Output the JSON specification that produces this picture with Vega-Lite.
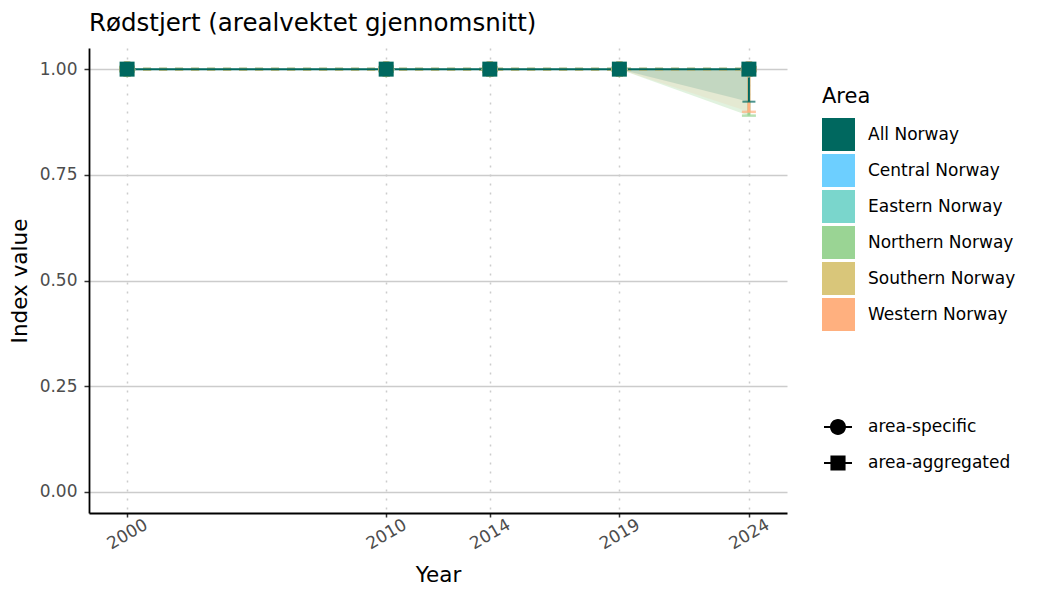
{
  "$schema": "https://vega.github.io/schema/vega-lite/v6.json",
  "width": 698,
  "height": 465,
  "autosize": {"type": "none"},
  "padding": {"left": 89, "top": 48, "right": 263, "bottom": 87},
  "background": "white",
  "title": {"text": "Rødstjert (arealvektet gjennomsnitt)", "anchor": "start", "frame": "group", "fontSize": 24.5, "fontWeight": "normal", "color": "black", "baseline": "alphabetic", "offset": -7},
  "data": {"values": [
    {"year": 2000, "area": "All Norway", "value": 1, "lower": 1, "upper": 1, "type": "area-aggregated"},
    {"year": 2000, "area": "Central Norway", "value": 1, "lower": 1, "upper": 1, "type": "area-specific"},
    {"year": 2000, "area": "Eastern Norway", "value": 1, "lower": 1, "upper": 1, "type": "area-specific"},
    {"year": 2000, "area": "Northern Norway", "value": 1, "lower": 1, "upper": 1, "type": "area-specific"},
    {"year": 2000, "area": "Western Norway", "value": 1, "lower": 1, "upper": 1, "type": "area-specific"},
    {"year": 2000, "area": "Southern Norway", "value": 1, "lower": 1, "upper": 1, "type": "area-specific"},
    {"year": 2010, "area": "All Norway", "value": 1, "lower": 1, "upper": 1, "type": "area-aggregated"},
    {"year": 2010, "area": "Central Norway", "value": 1, "lower": 1, "upper": 1, "type": "area-specific"},
    {"year": 2010, "area": "Eastern Norway", "value": 1, "lower": 1, "upper": 1, "type": "area-specific"},
    {"year": 2010, "area": "Northern Norway", "value": 1, "lower": 1, "upper": 1, "type": "area-specific"},
    {"year": 2010, "area": "Western Norway", "value": 1, "lower": 1, "upper": 1, "type": "area-specific"},
    {"year": 2010, "area": "Southern Norway", "value": 1, "lower": 1, "upper": 1, "type": "area-specific"},
    {"year": 2014, "area": "All Norway", "value": 1, "lower": 1, "upper": 1, "type": "area-aggregated"},
    {"year": 2014, "area": "Central Norway", "value": 1, "lower": 1, "upper": 1, "type": "area-specific"},
    {"year": 2014, "area": "Eastern Norway", "value": 1, "lower": 1, "upper": 1, "type": "area-specific"},
    {"year": 2014, "area": "Northern Norway", "value": 1, "lower": 1, "upper": 1, "type": "area-specific"},
    {"year": 2014, "area": "Western Norway", "value": 1, "lower": 1, "upper": 1, "type": "area-specific"},
    {"year": 2014, "area": "Southern Norway", "value": 1, "lower": 1, "upper": 1, "type": "area-specific"},
    {"year": 2019, "area": "All Norway", "value": 1, "lower": 1, "upper": 1, "type": "area-aggregated"},
    {"year": 2019, "area": "Central Norway", "value": 1, "lower": 1, "upper": 1, "type": "area-specific"},
    {"year": 2019, "area": "Eastern Norway", "value": 1, "lower": 1, "upper": 1, "type": "area-specific"},
    {"year": 2019, "area": "Northern Norway", "value": 1, "lower": 1, "upper": 1, "type": "area-specific"},
    {"year": 2019, "area": "Western Norway", "value": 1, "lower": 1, "upper": 1, "type": "area-specific"},
    {"year": 2019, "area": "Southern Norway", "value": 1, "lower": 1, "upper": 1, "type": "area-specific"},
    {"year": 2024, "area": "All Norway", "value": 1, "lower": 0.923, "upper": 1, "type": "area-aggregated"},
    {"year": 2024, "area": "Central Norway", "value": 1, "lower": 1, "upper": 1, "type": "area-specific"},
    {"year": 2024, "area": "Eastern Norway", "value": 1, "lower": 1, "upper": 1, "type": "area-specific"},
    {"year": 2024, "area": "Northern Norway", "value": 1, "lower": 0.89, "upper": 1, "type": "area-specific"},
    {"year": 2024, "area": "Southern Norway", "value": 1, "lower": 1, "upper": 1, "type": "area-specific"},
    {"year": 2024, "area": "Western Norway", "value": 1, "lower": 0.899, "upper": 1, "type": "area-specific"}
  ]},
  "encoding": {
    "x": {"field": "year", "type": "quantitative", "scale": {"domain": [1998.53, 2025.47], "nice": false, "zero": false},
      "axis": {"values": [2000, 2010, 2014, 2019, 2024], "format": "d", "title": "Year", "titleFontSize": 21.5, "titleFontWeight": "normal", "titleColor": "black", "titlePadding": 13,
        "labelFontSize": 17, "labelColor": "#4d4d4d", "labelAngle": -30, "labelAlign": "center", "labelBaseline": "middle", "labelPadding": 17, "labelFlush": false, "labelOverlap": false,
        "tickSize": 4, "tickColor": "#333333", "tickWidth": 1.5, "domainColor": "black", "domainWidth": 1.8,
        "grid": true, "gridDash": [2, 7], "gridColor": "#cccccc", "gridWidth": 1.5}}
  },
  "layer": [
    {
      "transform": [{"filter": "datum.area !== 'All Norway'"}],
      "mark": {"type": "area"},
      "encoding": {
        "y": {"field": "lower", "type": "quantitative", "title": "Index value", "scale": {"domain": [-0.05, 1.05], "nice": false, "zero": false}, "axis": {"values": [0, 0.25, 0.5, 0.75, 1], "format": ".2f", "title": "Index value"}},
        "y2": {"field": "upper"},
        "opacity": {"condition": {"test": "datum.area === 'Western Norway'", "value": 0.12}, "value": 0.3},
        "color": {"field": "area", "type": "nominal",
          "scale": {"domain": ["All Norway", "Central Norway", "Eastern Norway", "Northern Norway", "Southern Norway", "Western Norway"], "range": ["#00685F", "#6DCFFF", "#7AD6CC", "#9AD494", "#D9C67A", "#FFB07F"]},
          "legend": {"orient": "none", "legendX": 733, "legendY": 38, "title": "Area", "titleFontSize": 21, "titleFontWeight": "normal", "titleColor": "black", "titlePadding": 11,
            "labelFontSize": 17, "labelColor": "black", "symbolSize": 1089, "symbolType": "square", "symbolOpacity": 1, "symbolStrokeWidth": 0, "rowPadding": 3, "labelOffset": 13, "padding": 0}}
      }
    },
    {
      "transform": [{"filter": "datum.area === 'All Norway'"}],
      "mark": {"type": "area", "opacity": 0.14},
      "encoding": {
        "y": {"field": "lower", "type": "quantitative", "title": "Index value", "scale": {"domain": [-0.05, 1.05], "nice": false, "zero": false}, "axis": {"values": [0, 0.25, 0.5, 0.75, 1], "format": ".2f", "title": "Index value"}},
        "y2": {"field": "upper"},
        "color": {"field": "area", "type": "nominal", "legend": {"symbolOpacity": 1}}
      }
    },
    {
      "transform": [{"filter": "datum.area !== 'All Norway'"}],
      "mark": {"type": "line", "strokeWidth": 3, "strokeDash": [8, 8], "opacity": 0.8},
      "encoding": {
        "y": {"field": "value", "type": "quantitative", "title": "Index value", "scale": {"domain": [-0.05, 1.05], "nice": false, "zero": false}, "axis": {"values": [0, 0.25, 0.5, 0.75, 1], "format": ".2f", "title": "Index value"}},
        "color": {"field": "area", "type": "nominal", "legend": {"symbolOpacity": 1}}
      }
    },
    {
      "transform": [{"filter": "datum.area === 'All Norway'"}],
      "mark": {"type": "line", "strokeWidth": 2},
      "encoding": {
        "y": {"field": "value", "type": "quantitative", "title": "Index value", "scale": {"domain": [-0.05, 1.05], "nice": false, "zero": false}, "axis": {"values": [0, 0.25, 0.5, 0.75, 1], "format": ".2f", "title": "Index value"}},
        "color": {"field": "area", "type": "nominal"}
      }
    },
    {
      "transform": [{"filter": "datum.area !== 'All Norway' && datum.lower < datum.upper"}],
      "mark": {"type": "rule", "strokeWidth": 3},
      "encoding": {
        "y": {"field": "lower", "type": "quantitative", "title": "Index value", "scale": {"domain": [-0.05, 1.05], "nice": false, "zero": false}, "axis": {"values": [0, 0.25, 0.5, 0.75, 1], "format": ".2f", "title": "Index value"}},
        "y2": {"field": "upper"},
        "color": {"field": "area", "type": "nominal"}
      }
    },
    {
      "transform": [{"filter": "datum.area !== 'All Norway' && datum.lower < datum.upper"}],
      "mark": {"type": "tick", "orient": "horizontal", "size": 14, "thickness": 2.5},
      "encoding": {
        "y": {"field": "lower", "type": "quantitative", "title": "Index value", "scale": {"domain": [-0.05, 1.05], "nice": false, "zero": false}, "axis": {"values": [0, 0.25, 0.5, 0.75, 1], "format": ".2f", "title": "Index value"}},
        "color": {"field": "area", "type": "nominal"}
      }
    },
    {
      "transform": [{"filter": "datum.area === 'All Norway' && datum.lower < datum.upper"}],
      "mark": {"type": "rule", "strokeWidth": 2},
      "encoding": {
        "y": {"field": "lower", "type": "quantitative", "title": "Index value", "scale": {"domain": [-0.05, 1.05], "nice": false, "zero": false}, "axis": {"values": [0, 0.25, 0.5, 0.75, 1], "format": ".2f", "title": "Index value"}},
        "y2": {"field": "upper"},
        "color": {"field": "area", "type": "nominal"}
      }
    },
    {
      "transform": [{"filter": "datum.area === 'All Norway' && datum.lower < datum.upper"}],
      "mark": {"type": "tick", "orient": "horizontal", "size": 13, "thickness": 2},
      "encoding": {
        "y": {"field": "lower", "type": "quantitative", "title": "Index value", "scale": {"domain": [-0.05, 1.05], "nice": false, "zero": false}, "axis": {"values": [0, 0.25, 0.5, 0.75, 1], "format": ".2f", "title": "Index value"}},
        "color": {"field": "area", "type": "nominal"}
      }
    },
    {
      "transform": [{"filter": "datum.area !== 'All Norway'"}],
      "mark": {"type": "point", "shape": "circle", "filled": true, "size": 256, "opacity": 1},
      "encoding": {
        "y": {"field": "value", "type": "quantitative", "title": "Index value", "scale": {"domain": [-0.05, 1.05], "nice": false, "zero": false}, "axis": {"values": [0, 0.25, 0.5, 0.75, 1], "format": ".2f", "title": "Index value"}},
        "color": {"field": "area", "type": "nominal"}
      }
    },
    {
      "transform": [{"filter": "datum.area === 'All Norway'"}],
      "mark": {"type": "point", "shape": "square", "filled": true, "size": 225, "opacity": 1},
      "encoding": {
        "y": {"field": "value", "type": "quantitative", "title": "Index value", "scale": {"domain": [-0.05, 1.05], "nice": false, "zero": false}, "axis": {"values": [0, 0.25, 0.5, 0.75, 1], "format": ".2f", "title": "Index value"}},
        "color": {"field": "area", "type": "nominal"}
      }
    },
    {
      "mark": {"type": "point", "filled": true, "color": "black", "opacity": 0, "size": 1},
      "encoding": {
        "y": {"field": "value", "type": "quantitative", "title": "Index value", "scale": {"domain": [-0.05, 1.05], "nice": false, "zero": false}, "axis": {"values": [0, 0.25, 0.5, 0.75, 1], "format": ".2f", "title": "Index value"}},
        "shape": {"field": "type", "type": "nominal",
          "scale": {"domain": ["area-specific", "area-aggregated"], "range": ["M-1,-0.075H-0.5V0.075H-1ZM0.5,-0.075H1V0.075H0.5ZM-0.57,0A0.57,0.57,0,1,1,0.57,0A0.57,0.57,0,1,1,-0.57,0Z", "M-1,-0.075H-0.5V0.075H-1ZM0.5,-0.075H1V0.075H0.5ZM-0.54,-0.54H0.54V0.54H-0.54Z"]},
          "legend": {"orient": "none", "legendX": 735, "legendY": 365, "title": null, "labelFontSize": 17, "labelColor": "black", "symbolSize": 784, "rowPadding": 14, "labelOffset": 16, "padding": 0,
            "symbolFillColor": "black", "symbolStrokeWidth": 0, "symbolOpacity": 1}}
      }
    }
  ],
  "config": {
    "font": "DejaVu Sans",
    "view": {"stroke": null},
    "legend": {"symbolOpacity": 1},
    "axisY": {"labelFontSize": 17, "labelColor": "#4d4d4d", "labelPadding": 7, "tickSize": 5, "tickColor": "#333333", "tickWidth": 1.5, "domainColor": "black", "domainWidth": 1.8, "gridColor": "#cccccc", "gridWidth": 1.5, "titleFontSize": 21.5, "titleFontWeight": "normal", "titleColor": "black", "titlePadding": 8}
  }
}
